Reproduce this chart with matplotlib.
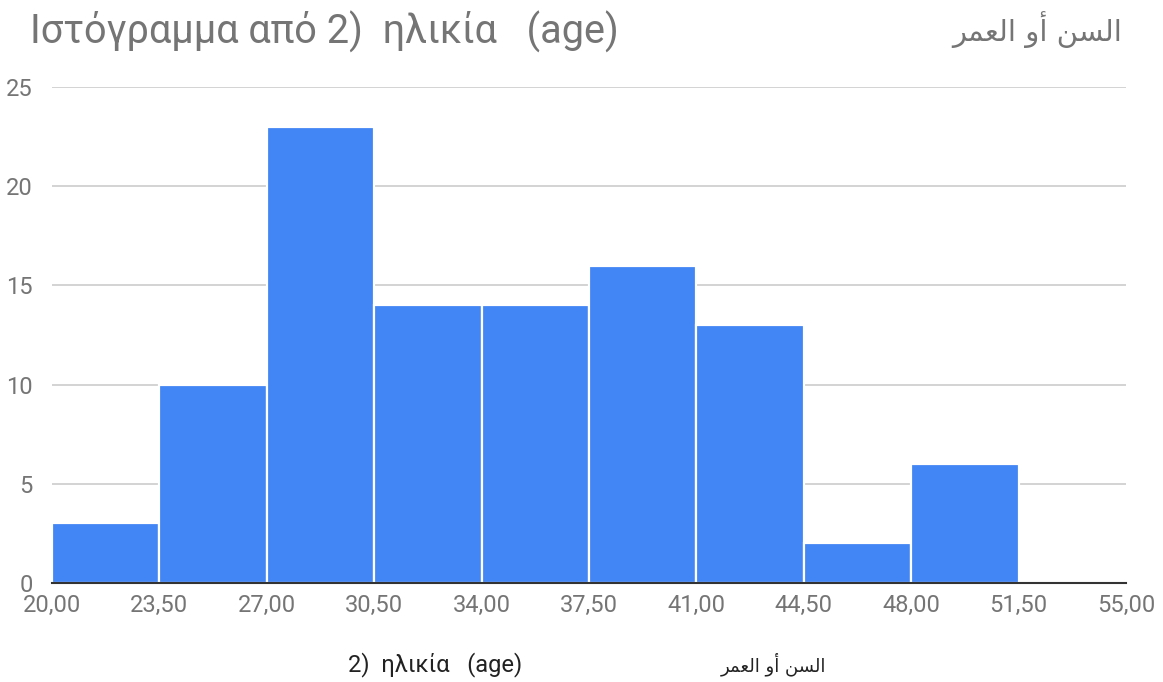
import numpy as np
import matplotlib.pyplot as plt

# histogram of ages, bin edges and counts
bin_edges = [20.0, 23.5, 27.0, 30.5, 34.0, 37.5, 41.0, 44.5, 48.0, 51.5, 55.0]
counts = [3, 10, 23, 14, 14, 16, 13, 2, 6, 0]
y_ticks = [0, 5, 10, 15, 20, 25]

title_text = "Ιστόγραμμα από 2)  ηλικία   (age)"
xlabel_text = "2)  ηλικία   (age)"
arabic_text = "السن أو العمر"

# matplotlib does no arabic shaping, so map letters to presentation forms
# (isolated, final, initial, medial) and reverse into visual order
forms = {
    'ا': ('\uFE8D', '\uFE8E', None, None),
    'أ': ('\uFE83', '\uFE84', None, None),
    'و': ('\uFEED', '\uFEEE', None, None),
    'ر': ('\uFEAD', '\uFEAE', None, None),
    'ل': ('\uFEDD', '\uFEDE', '\uFEDF', '\uFEE0'),
    'س': ('\uFEB1', '\uFEB2', '\uFEB3', '\uFEB4'),
    'ن': ('\uFEE5', '\uFEE6', '\uFEE7', '\uFEE8'),
    'ع': ('\uFEC9', '\uFECA', '\uFECB', '\uFECC'),
    'م': ('\uFEE1', '\uFEE2', '\uFEE3', '\uFEE4'),
}

def shape_arabic(s):
    out = []
    for i, ch in enumerate(s):
        if ch not in forms:
            out.append(ch)
            continue
        prev = s[i - 1] if i > 0 else ' '
        nxt = s[i + 1] if i + 1 < len(s) else ' '
        joins_prev = prev in forms and forms[prev][2] is not None
        joins_next = nxt in forms and forms[ch][2] is not None
        iso, fin, ini, med = forms[ch]
        if joins_prev and joins_next:
            out.append(med)
        elif joins_prev:
            out.append(fin)
        elif joins_next:
            out.append(ini)
        else:
            out.append(iso)
    return ''.join(out[::-1])

fonts = ['Roboto', 'DejaVu Sans']
plt.rcParams['font.family'] = fonts
grey = '#757575'

fig = plt.figure(figsize=(11.63, 6.82), dpi=100)
ax = fig.add_axes([52 / 1163, 1 - 583 / 682, (1126 - 52) / 1163, (583 - 87) / 682])

widths = np.diff(bin_edges)
ax.bar(bin_edges[:-1], counts, width=widths, align='edge', color='#4285F4',
       edgecolor='white', linewidth=1.6, zorder=2)

ax.set_xlim(bin_edges[0], bin_edges[-1])
ax.set_ylim(0, 25)
ax.set_xticks(bin_edges)
ax.set_xticklabels([f"{v:.2f}".replace('.', ',') for v in bin_edges])
ax.set_yticks(y_ticks)
ax.grid(axis='y', color='#cccccc', linewidth=1.2, zorder=0)
ax.tick_params(length=0, labelsize=17, colors=grey, pad=8)
ax.tick_params(axis='y', pad=14)
for s in ['top', 'right', 'left']:
    ax.spines[s].set_visible(False)
ax.spines['bottom'].set_color('#333333')
ax.spines['bottom'].set_linewidth(1.5)
ax.spines['bottom'].set_zorder(3)

fig.text(30 / 1163, 1 - 32 / 682, title_text, fontsize=28.5, color=grey, va='center', ha='left')
fig.text(1122 / 1163, 1 - 30 / 682, shape_arabic(arabic_text), fontsize=21, color=grey,
         va='center', ha='right', family=['DejaVu Sans'])
fig.text(348 / 1163, 1 - 665 / 682, xlabel_text, fontsize=17, color='#222222', va='center', ha='left')
fig.text(826 / 1163, 1 - 664 / 682, shape_arabic(arabic_text), fontsize=13, color='#222222',
         va='center', ha='right', family=['DejaVu Sans'])

fig.savefig('out.png', dpi=100)
